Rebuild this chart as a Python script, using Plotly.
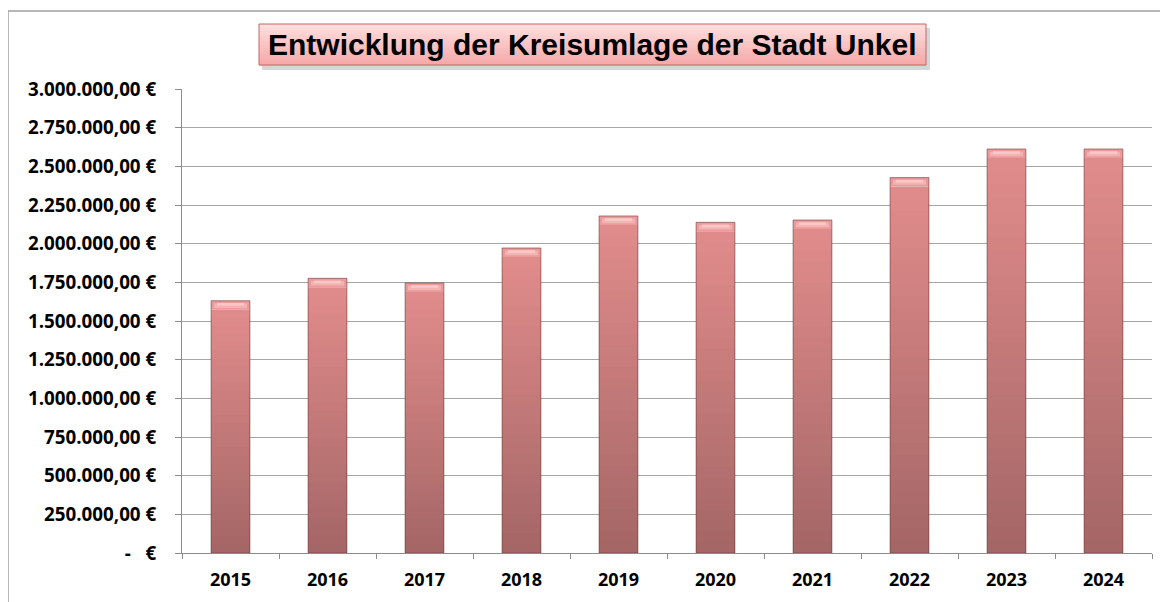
import plotly.graph_objects as go
import numpy as np

years = ["2015", "2016", "2017", "2018", "2019", "2020", "2021", "2022", "2023", "2024"]
values = [1631000, 1776000, 1746000, 1972000, 2179000, 2138000, 2153000, 2427000, 2612000, 2612000]
tick_vals = [0, 250000, 500000, 750000, 1000000, 1250000, 1500000, 1750000, 2000000,
             2250000, 2500000, 2750000, 3000000]
tick_text = ["-   €", "250.000,00 €", "500.000,00 €", "750.000,00 €", "1.000.000,00 €",
             "1.250.000,00 €", "1.500.000,00 €", "1.750.000,00 €", "2.000.000,00 €",
             "2.250.000,00 €", "2.500.000,00 €", "2.750.000,00 €", "3.000.000,00 €"]
title_text = "Entwicklung der Kreisumlage der Stadt Unkel"

OFF = 8  # page body margin
W, H = 1160, 594
ML, MT = 182 - OFF, 89 - OFF
PR, PB = 1152 - OFF, 553 - OFF
MR, MB = W - PR, H - PB
PW, PH = PR - ML, PB - MT

bottom_rgb = np.array([164, 102, 102])
top_rgb = np.array([226, 140, 140])
N = 30
bevel = 58000  # data units of top bevel band
vals = np.array(values, dtype=float)

fig = go.Figure()
# gradient body: overlapping bars from tallest (light) to shortest (dark)
for k in range(N, 0, -1):
    t = (k - 0.5) / N
    c = bottom_rgb + (top_rgb - bottom_rgb) * t
    fig.add_trace(go.Bar(
        x=years, y=(vals - bevel) * k / N,
        marker=dict(color="rgb(%d,%d,%d)" % tuple(c), line=dict(width=0)),
        width=0.4, hoverinfo="skip", showlegend=False))
# top bevel
fig.add_trace(go.Bar(
    x=years, y=[bevel] * len(years), base=vals - bevel,
    marker=dict(color="rgb(234,154,154)", line=dict(width=0)),
    width=0.4, hoverinfo="skip", showlegend=False))
fig.add_trace(go.Bar(
    x=years, y=[bevel * 0.5] * len(years), base=vals - bevel * 0.8,
    marker=dict(color="rgb(244,178,178)", line=dict(width=0)),
    width=0.34, hoverinfo="skip", showlegend=False))
fig.add_trace(go.Bar(
    x=years, y=[bevel * 0.3] * len(years), base=vals - bevel * 0.55,
    marker=dict(color="rgb(250,200,200)", line=dict(width=0)),
    width=0.28, hoverinfo="skip", showlegend=False))
# outline
fig.add_trace(go.Bar(
    x=years, y=vals,
    marker=dict(color="rgba(0,0,0,0)", line=dict(color="rgba(110,60,60,0.6)", width=1)),
    width=0.4, hoverinfo="skip", showlegend=False))

fig.update_layout(
    width=W, height=H,
    margin=dict(l=ML, r=MR, t=MT, b=MB),
    barmode="overlay",
    plot_bgcolor="white", paper_bgcolor="white",
    showlegend=False,
    xaxis=dict(
        type="category", tickson="boundaries", ticks="outside", ticklen=5,
        tickcolor="#8c8c8c", showline=True, linecolor="#8c8c8c", linewidth=1,
        showgrid=False, ticklabelstandoff=10,
        tickfont=dict(family="Open Sans", size=18, color="black", weight="bold"),
    ),
    yaxis=dict(
        range=[0, 3000000], tickvals=tick_vals, ticktext=tick_text,
        ticks="outside", ticklen=6, tickcolor="#8c8c8c",
        showline=True, linecolor="#8c8c8c", linewidth=1,
        showgrid=True, gridcolor="#a6a6a6", gridwidth=1,
        zeroline=False, ticklabelstandoff=15,
        tickfont=dict(family="Open Sans", size=18.8, color="black", weight="bold"),
    ),
)

def px_x(p):
    return (p - OFF - ML) / PW

def px_y(p):
    return (PB - (p - OFF)) / PH

# outer frame
fig.add_shape(type="rect", xref="paper", yref="paper",
              x0=px_x(8), x1=px_x(1200), y0=px_y(640), y1=px_y(11),
              line=dict(color="#a0a0a0", width=1.5), fillcolor="rgba(0,0,0,0)", layer="below")
# title box with shadow and gradient
fig.add_shape(type="rect", xref="paper", yref="paper",
              x0=px_x(262), x1=px_x(930), y0=px_y(70), y1=px_y(28),
              line=dict(width=0), fillcolor="rgba(120,120,120,0.3)")
box_top, box_bot = 24, 65
bands = 12
for i in range(bands):
    t = i / (bands - 1)
    c = np.array([253, 222, 222]) + (np.array([246, 170, 170]) - np.array([253, 222, 222])) * t
    y0 = box_top + (box_bot - box_top) * i / bands
    y1 = box_top + (box_bot - box_top) * (i + 1) / bands
    fig.add_shape(type="rect", xref="paper", yref="paper",
                  x0=px_x(259), x1=px_x(926), y0=px_y(y1 + 0.5), y1=px_y(y0),
                  line=dict(width=0), fillcolor="rgb(%d,%d,%d)" % tuple(c))
fig.add_shape(type="rect", xref="paper", yref="paper",
              x0=px_x(259), x1=px_x(926), y0=px_y(box_bot), y1=px_y(box_top),
              line=dict(color="#c86464", width=1), fillcolor="rgba(0,0,0,0)")
fig.add_annotation(text=title_text, xref="paper", yref="paper",
                   x=(px_x(259) + px_x(926)) / 2, y=(px_y(box_bot) + px_y(box_top)) / 2,
                   xanchor="center", yanchor="middle", showarrow=False,
                   font=dict(family="Liberation Sans", size=30, color="black", weight="bold"))

fig.write_html("out.html")
